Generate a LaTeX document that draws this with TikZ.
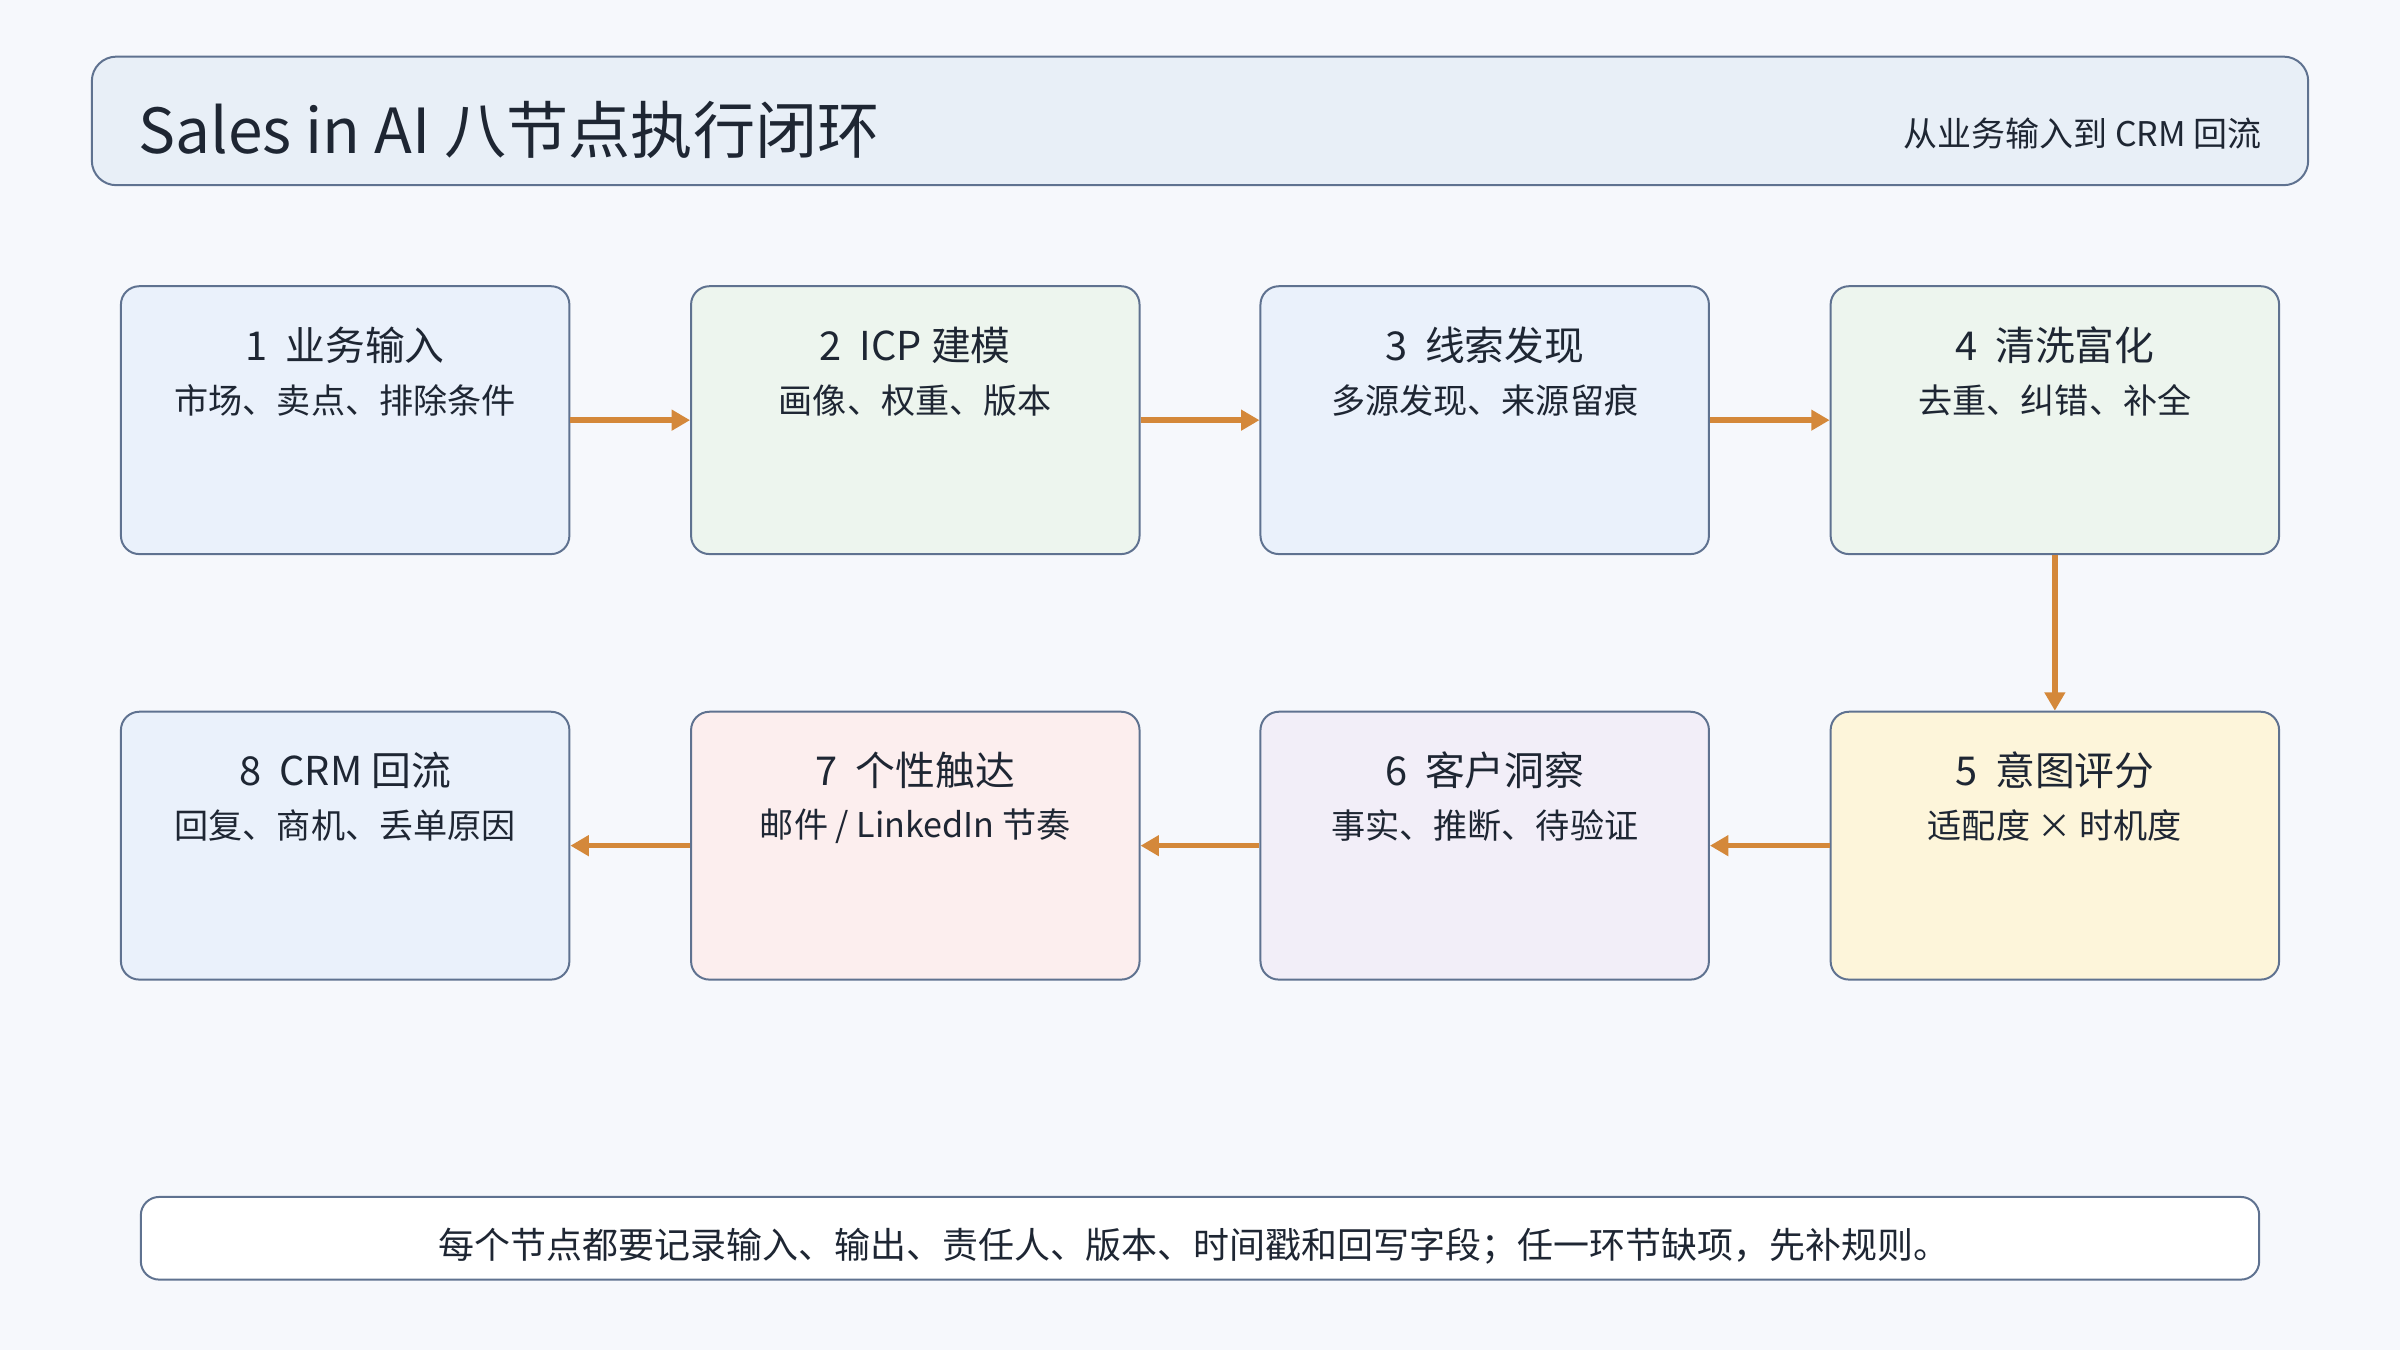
\documentclass[tikz,border=0pt]{standalone}
\usepackage{fontspec}
\setmainfont{Noto Sans CJK SC}
\usetikzlibrary{arrows.meta}
\definecolor{bg}{HTML}{F6F8FC}
\definecolor{bd}{HTML}{5F7290}
\definecolor{cblue}{HTML}{EAF1FB}
\definecolor{cgreen}{HTML}{EDF5EE}
\definecolor{cyellow}{HTML}{FDF5DA}
\definecolor{cpurple}{HTML}{F2EEF8}
\definecolor{cpink}{HTML}{FCEEEE}
\definecolor{ctitle}{HTML}{E8EFF7}
\definecolor{arr}{HTML}{D4883A}
\definecolor{txt}{HTML}{1E2633}
\tikzset{
 box/.style={draw=bd,line width=1.3pt,rounded corners=12pt,minimum width=293pt,minimum height=175pt,inner sep=0pt},
 head/.style={font=\fontsize{26}{30}\selectfont,text=txt},
 sub/.style={font=\fontsize{22.3}{26}\selectfont,text=txt},
 flow/.style={draw=arr,line width=3.5pt,-{Triangle[length=12pt,width=13pt]}}
}
\begin{document}
\begin{tikzpicture}[x=1pt,y=-1pt]
\fill[bg] (0,0) rectangle (1568,882);
\useasboundingbox (0,0) rectangle (1568,882);
\draw[bd,fill=ctitle,line width=1.3pt,rounded corners=16pt] (60,37) rectangle (1508,121);
\node[anchor=west,font=\fontsize{40.6}{46}\selectfont,text=txt] (title) at (87,85) {Sales in AI 八节点执行闭环};
\node[anchor=east,font=\fontsize{22.2}{26}\selectfont,text=txt] (subt) at (1481,87) {从业务输入到 CRM 回流};
\foreach \n/\x/\y/\c/\h/\s in {
 1/225.5/274.5/cblue/1\ \ 业务输入/市场、卖点、排除条件,
 2/598/274.5/cgreen/2\ \ ICP 建模/画像、权重、版本,
 3/970/274.5/cblue/3\ \ 线索发现/多源发现、来源留痕,
 4/1342.5/274.5/cgreen/4\ \ 清洗富化/去重、纠错、补全,
 5/1342.5/552.5/cyellow/5\ \ 意图评分/适配度 × 时机度,
 6/970/552.5/cpurple/6\ \ 客户洞察/事实、推断、待验证,
 7/598/552.5/cpink/7\ \ 个性触达/{邮件 / LinkedIn 节奏},
 8/225.5/552.5/cblue/8\ \ CRM 回流/回复、商机、丢单原因}{
 \node[box,fill=\c] (n\n) at (\x,\y) {};
 \node[head] (h\n) at (\x,\y-49) {\h};
 \node[sub] (s\n) at (\x,\y-13) {\s};
}
\draw[flow] (n1) -- (n2);
\draw[flow] (n2) -- (n3);
\draw[flow] (n3) -- (n4);
\draw[flow] (n4) -- (n5);
\draw[flow] (n5) -- (n6);
\draw[flow] (n6) -- (n7);
\draw[flow] (n7) -- (n8);
\draw[bd,fill=white,line width=1.3pt,rounded corners=12pt] (92,782) rectangle (1476,836);
\node[font=\fontsize{23.5}{27}\selectfont,text=txt] (note) at (780,814) {每个节点都要记录输入、输出、责任人、版本、时间戳和回写字段；任一环节缺项，先补规则。};
\end{tikzpicture}
\end{document}
